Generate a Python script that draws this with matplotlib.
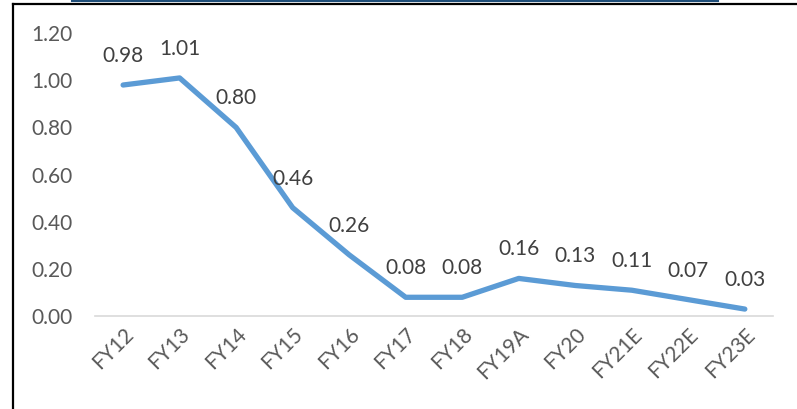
import matplotlib.pyplot as plt
from matplotlib.lines import Line2D

# data
years = ['FY12', 'FY13', 'FY14', 'FY15', 'FY16', 'FY17', 'FY18',
         'FY19A', 'FY20', 'FY21E', 'FY22E', 'FY23E']
values = [0.98, 1.01, 0.80, 0.46, 0.26, 0.08, 0.08, 0.16, 0.13, 0.11, 0.07, 0.03]
yticks = [0.0, 0.2, 0.4, 0.6, 0.8, 1.0, 1.2]

plt.rcParams['font.family'] = ['Lato', 'DejaVu Sans']
txt = '#595959'

fig = plt.figure(figsize=(7.97, 4.09), dpi=100)
ax = fig.add_axes([0.119, 0.227, 0.851, 0.692])

x = list(range(len(years)))
ax.plot(x, values, color='#5B9BD5', lw=3.8, solid_capstyle='round', solid_joinstyle='round')

for xi, v in zip(x, values):
    ax.annotate(f'{v:.2f}', (xi, v), xytext=(0, 29), textcoords='offset pixels',
                ha='center', va='center', fontsize=15, color='#404040')

ax.set_xlim(-0.5, len(years) - 0.5)
ax.set_ylim(0, 1.2)
ax.set_yticks(yticks)
ax.set_yticklabels([f'{t:.2f}' for t in yticks])
ax.set_xticks(x)
ax.set_xticklabels(years, rotation=45, ha='right', rotation_mode='anchor')

ax.tick_params(axis='both', length=0, labelsize=15, labelcolor=txt)
ax.tick_params(axis='y', pad=16)
ax.tick_params(axis='x', pad=6)
for s in ['top', 'right', 'left']:
    ax.spines[s].set_visible(False)
ax.spines['bottom'].set_color('#D9D9D9')
ax.spines['bottom'].set_linewidth(1.2)

# frame around the chart and cut-off underline at top
fig.add_artist(Line2D([12.5 / 797, 1], [1 - 3.5 / 409, 1 - 3.5 / 409],
                      transform=fig.transFigure, color='black', lw=1.6))
fig.add_artist(Line2D([12.5 / 797, 12.5 / 797], [0, 1 - 3.5 / 409],
                      transform=fig.transFigure, color='black', lw=1.6))
fig.add_artist(Line2D([72 / 797, 718 / 797], [1 - 0.5 / 409, 1 - 0.5 / 409],
                      transform=fig.transFigure, color='#1F4E79', lw=1.5))

fig.savefig('out.png', dpi=100)
